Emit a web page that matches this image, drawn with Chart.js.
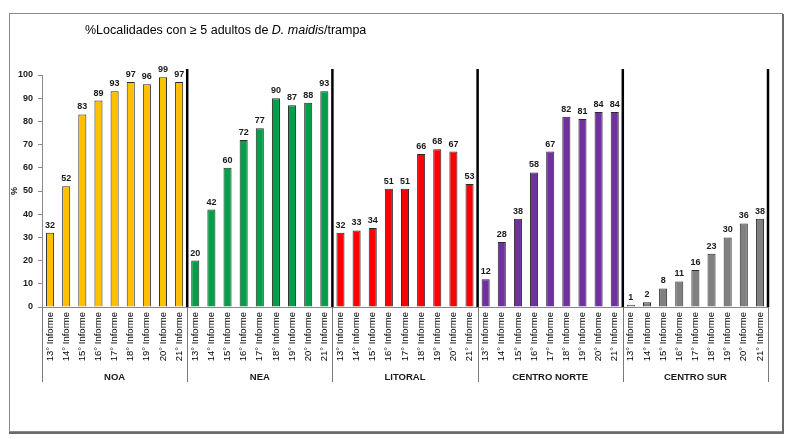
<!DOCTYPE html>
<html>
<head>
<meta charset="utf-8">
<script src="https://cdn.jsdelivr.net/npm/chart.js@4.4.1/dist/chart.umd.min.js"></script>
<style>
  html, body { margin: 0; padding: 0; background: #fff; }
  #wrap { position: relative; width: 790px; height: 439px; }
</style>
</head>
<body>
<div id="wrap"><canvas id="chart" width="790" height="439"></canvas></div>
<script>
// Data
const informes = ['13° Informe', '14° Informe', '15° Informe', '16° Informe', '17° Informe',
                  '18° Informe', '19° Informe', '20° Informe', '21° Informe'];
const regiones = ['NOA', 'NEA', 'LITORAL', 'CENTRO NORTE', 'CENTRO SUR'];
const noa = [32, 52, 83, 89, 93, 97, 96, 99, 97];
const nea = [20, 42, 60, 72, 77, 90, 87, 88, 93];
const litoral = [32, 33, 34, 51, 51, 66, 68, 67, 53];
const centroNorte = [12, 28, 38, 58, 67, 82, 81, 84, 84];
const centroSur = [1, 2, 8, 11, 16, 23, 30, 36, 38];
const colores = ['#FFC000', '#00A04B', '#FF0000', '#7030A0', '#808080'];
const yTicks = [0, 10, 20, 30, 40, 50, 60, 70, 80, 90, 100];

const FONT = 'Arial, "Liberation Sans", sans-serif';

const series = [noa, nea, litoral, centroNorte, centroSur];
const labels = [];
const values = [];
const barColors = [];
series.forEach((arr, g) => {
    arr.forEach((v, i) => {
        labels.push(informes[i]);
        values.push(v);
        barColors.push(colores[g]);
    });
});

// Frame, title, value labels, region separators and names
const decor = {
    id: 'decor',
    beforeDraw(chart) {
        const ctx = chart.ctx;
        ctx.save();
        ctx.fillStyle = '#fff';
        ctx.fillRect(0, 0, chart.width, chart.height);
        ctx.strokeStyle = '#8a8a8a';
        ctx.lineWidth = 1;
        ctx.strokeRect(9.5, 13.5, 773, 418);
        ctx.strokeStyle = '#6a6a6a';
        ctx.lineWidth = 2;
        ctx.beginPath();
        ctx.moveTo(783, 14);
        ctx.lineTo(783, 433);
        ctx.lineTo(9, 433);
        ctx.stroke();
        ctx.restore();
    },
    afterDatasetsDraw(chart) {
        const ctx = chart.ctx;
        const x = chart.scales.x;
        const area = chart.chartArea;
        const meta = chart.getDatasetMeta(0);
        ctx.save();

        // value labels
        ctx.fillStyle = '#1a1a1a';
        ctx.font = 'bold 9px ' + FONT;
        ctx.textAlign = 'center';
        ctx.textBaseline = 'bottom';
        meta.data.forEach((bar, i) => {
            ctx.fillText(String(values[i]), bar.x, bar.y - 3);
        });

        // region boundaries
        const step = (x.right - x.left) / labels.length;
        const bounds = [];
        for (let g = 0; g <= regiones.length; g++) {
            bounds.push(x.left + g * informes.length * step);
        }

        // thin lines under the axis
        ctx.strokeStyle = '#7a7a7a';
        ctx.lineWidth = 1;
        bounds.forEach(b => {
            ctx.beginPath();
            ctx.moveTo(Math.round(b) + 0.5, area.bottom);
            ctx.lineTo(Math.round(b) + 0.5, 382);
            ctx.stroke();
        });

        // thick separators in the plot
        ctx.strokeStyle = '#000';
        ctx.lineWidth = 2.5;
        bounds.slice(1).forEach(b => {
            ctx.beginPath();
            ctx.moveTo(b, area.top - 6);
            ctx.lineTo(b, area.bottom);
            ctx.stroke();
        });

        // region names
        ctx.fillStyle = '#1a1a1a';
        ctx.font = 'bold 9.5px ' + FONT;
        ctx.textBaseline = 'middle';
        regiones.forEach((r, g) => {
            ctx.fillText(r, (bounds[g] + bounds[g + 1]) / 2, 377);
        });

        // y axis title
        ctx.save();
        ctx.translate(15, 191);
        ctx.rotate(-Math.PI / 2);
        ctx.font = 'bold 9px ' + FONT;
        ctx.fillText('%', 0, 0);
        ctx.restore();

        // title with italic species name
        const parts = [
            ['%Localidades con ≥ 5 adultos de ', '12.5px '],
            ['D. maidis', 'italic 12.5px '],
            ['/trampa', '12.5px ']
        ];
        let tx = 85;
        ctx.textAlign = 'left';
        ctx.textBaseline = 'alphabetic';
        ctx.fillStyle = '#000';
        parts.forEach(p => {
            ctx.font = p[1] + FONT;
            ctx.fillText(p[0], tx, 34);
            tx += ctx.measureText(p[0]).width;
        });

        ctx.restore();
    }
};

new Chart(document.getElementById('chart').getContext('2d'), {
    type: 'bar',
    data: {
        labels: labels,
        datasets: [{
            data: values,
            backgroundColor: barColors,
            borderColor: '#2a2a2a',
            borderWidth: 1,
            categoryPercentage: 1,
            barPercentage: 0.5
        }]
    },
    options: {
        responsive: false,
        animation: false,
        devicePixelRatio: 1,
        layout: {
            padding: { top: 75, right: 22, left: 0, bottom: 0 }
        },
        plugins: {
            legend: { display: false },
            tooltip: { enabled: false }
        },
        scales: {
            x: {
                grid: { display: false, drawTicks: false },
                border: { display: true, color: '#8a8a8a', width: 1 },
                ticks: {
                    autoSkip: false,
                    maxRotation: 90,
                    minRotation: 90,
                    padding: 5,
                    color: '#000',
                    font: { family: FONT, size: 9.5 }
                },
                afterFit(scale) { scale.height = 132; }
            },
            y: {
                min: 0,
                max: 100,
                afterBuildTicks(scale) {
                    scale.ticks = yTicks.map(v => ({ value: v }));
                },
                grid: {
                    drawOnChartArea: false,
                    drawTicks: true,
                    tickLength: 4,
                    color: '#8a8a8a'
                },
                border: { display: true, color: '#8a8a8a', width: 1 },
                ticks: {
                    padding: 5,
                    color: '#1a1a1a',
                    font: { family: FONT, size: 9, weight: 'bold' }
                },
                afterFit(scale) { scale.width = 42; }
            }
        }
    },
    plugins: [decor]
});
</script>
</body>
</html>
